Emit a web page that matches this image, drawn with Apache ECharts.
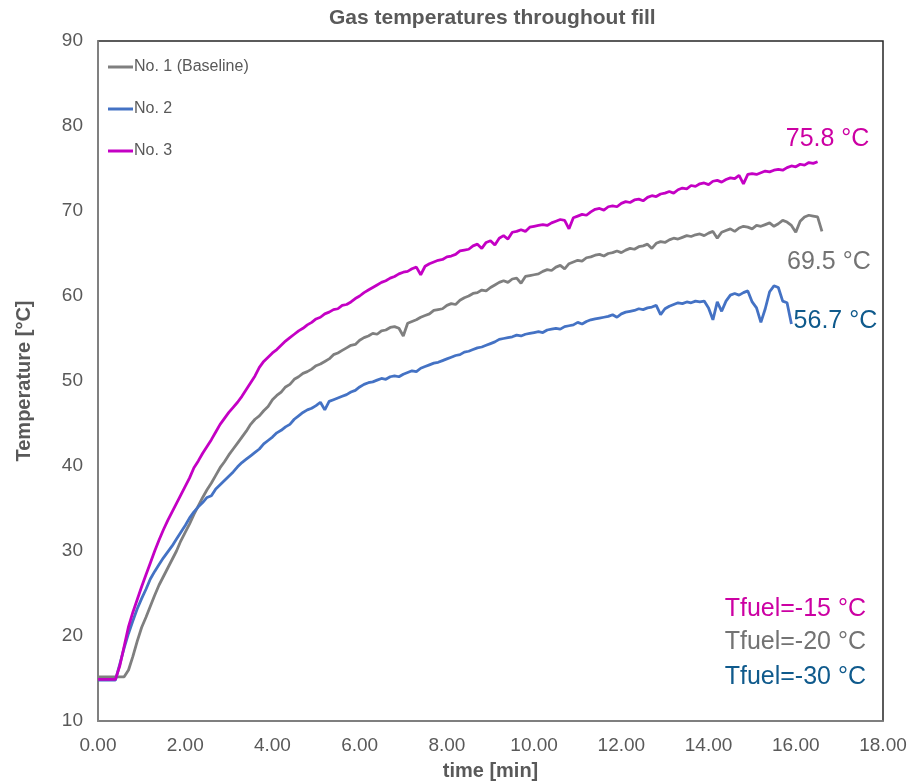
<!DOCTYPE html>
<html>
<head>
<meta charset="utf-8">
<title>Gas temperatures throughout fill</title>
<script src="https://cdn.jsdelivr.net/npm/echarts@6/dist/echarts.min.js"></script>
<style>
  html, body { margin: 0; padding: 0; background: #ffffff; }
  #chart { width: 907px; height: 781px; }
</style>
</head>
<body>
<div id="chart"></div>
<script>
// Sample times in minutes (one reading every 0.1 min)
const timeMin = [
  0.0, 0.1, 0.2, 0.3, 0.4, 0.5, 0.6, 0.7, 0.8, 0.9,
  1.0, 1.1, 1.2, 1.3, 1.4, 1.5, 1.6, 1.7, 1.8, 1.9,
  2.0, 2.1, 2.2, 2.3, 2.4, 2.5, 2.6, 2.7, 2.8, 2.9,
  3.0, 3.1, 3.2, 3.3, 3.4, 3.5, 3.6, 3.7, 3.8, 3.9,
  4.0, 4.1, 4.2, 4.3, 4.4, 4.5, 4.6, 4.7, 4.8, 4.9,
  5.0, 5.1, 5.2, 5.3, 5.4, 5.5, 5.6, 5.7, 5.8, 5.9,
  6.0, 6.1, 6.2, 6.3, 6.4, 6.5, 6.6, 6.7, 6.8, 6.9,
  7.0, 7.1, 7.2, 7.3, 7.4, 7.5, 7.6, 7.7, 7.8, 7.9,
  8.0, 8.1, 8.2, 8.3, 8.4, 8.5, 8.6, 8.7, 8.8, 8.9,
  9.0, 9.1, 9.2, 9.3, 9.4, 9.5, 9.6, 9.7, 9.8, 9.9,
  10.0, 10.1, 10.2, 10.3, 10.4, 10.5, 10.6, 10.7, 10.8, 10.9,
  11.0, 11.1, 11.2, 11.3, 11.4, 11.5, 11.6, 11.7, 11.8, 11.9,
  12.0, 12.1, 12.2, 12.3, 12.4, 12.5, 12.6, 12.7, 12.8, 12.9,
  13.0, 13.1, 13.2, 13.3, 13.4, 13.5, 13.6, 13.7, 13.8, 13.9,
  14.0, 14.1, 14.2, 14.3, 14.4, 14.5, 14.6, 14.7, 14.8, 14.9,
  15.0, 15.1, 15.2, 15.3, 15.4, 15.5, 15.6, 15.7, 15.8, 15.9,
  16.0, 16.1, 16.2, 16.3, 16.4, 16.5, 16.6
];

// No. 1 (Baseline), Tfuel = -20 °C
const tempNo1 = [
  15.2, 15.2, 15.2, 15.2, 15.2, 15.2, 15.2, 16.0, 17.6, 19.4,
  21.0, 22.2, 23.5, 24.8, 26.0, 27.0, 28.0, 29.0, 30.0, 31.2,
  32.2, 33.2, 34.3, 35.3, 36.3, 37.2, 38.0, 38.9, 39.8, 40.5,
  41.3, 42.0, 42.7, 43.4, 44.1, 44.9, 45.5, 45.9, 46.5, 47.0,
  47.8, 48.3, 48.7, 49.3, 49.6, 50.2, 50.5, 50.9, 51.1, 51.4,
  51.8, 52.0, 52.3, 52.6, 53.1, 53.3, 53.6, 53.9, 54.2, 54.3,
  54.8, 55.1, 55.3, 55.6, 55.5, 55.9, 56.0, 56.3, 56.4, 56.2,
  55.3, 56.8, 57.0, 57.2, 57.5, 57.7, 57.9, 58.3, 58.4, 58.5,
  58.9, 59.1, 59.0, 59.5, 59.8, 60.0, 60.3, 60.4, 60.7, 60.6,
  61.0, 61.3, 61.6, 61.8, 61.6, 62.0, 62.1, 61.5, 62.3, 62.4,
  62.5, 62.6, 62.9, 63.1, 63.0, 63.4, 63.6, 63.2, 63.8, 64.0,
  64.2, 64.1, 64.5, 64.6, 64.8, 64.9, 64.7, 65.0, 65.1, 65.3,
  65.1, 65.4, 65.6, 65.5, 65.8, 65.9, 66.1, 65.6, 66.2, 66.4,
  66.3, 66.6, 66.8, 66.7, 66.9, 67.1, 67.0, 67.2, 67.3, 67.1,
  67.4, 67.6, 66.8, 67.5, 67.7, 67.9, 67.6, 68.0, 68.2, 68.1,
  67.9, 68.3, 68.2, 68.4, 68.6, 68.2, 68.5, 68.9, 68.7, 68.3,
  67.5, 68.8, 69.3, 69.5, 69.4, 69.3, 67.6
];

// No. 2, Tfuel = -30 °C
const tempNo2 = [
  14.8, 14.8, 14.8, 14.8, 14.8, 16.7, 18.6, 20.3, 21.8, 23.2,
  24.4, 25.5, 26.7, 27.6, 28.4, 29.2, 29.9, 30.6, 31.4, 32.2,
  33.0, 33.9, 34.6, 35.2, 35.7, 36.3, 36.5, 37.3, 37.8, 38.3,
  38.8, 39.3, 39.9, 40.4, 40.8, 41.2, 41.6, 42.0, 42.6, 43.0,
  43.4, 43.9, 44.2, 44.6, 44.9, 45.5, 45.9, 46.3, 46.6, 46.8,
  47.1, 47.5, 46.6, 47.6, 47.8, 48.0, 48.2, 48.4, 48.7, 48.9,
  49.3, 49.6, 49.8, 49.9, 50.1, 50.3, 50.2, 50.5, 50.6, 50.5,
  50.8, 51.0, 51.2, 51.1, 51.5, 51.7, 51.9, 52.1, 52.2, 52.4,
  52.6, 52.8, 53.0, 53.1, 53.4, 53.5, 53.7, 53.9, 54.0, 54.2,
  54.4, 54.6, 54.9, 55.0, 55.1, 55.2, 55.4, 55.3, 55.5, 55.6,
  55.7, 55.8, 55.7, 56.0, 56.1, 56.2, 56.1, 56.4, 56.5, 56.6,
  56.9, 56.7, 57.0, 57.2, 57.3, 57.4, 57.5, 57.6, 57.8, 57.5,
  57.9, 58.1, 58.2, 58.3, 58.5, 58.4, 58.6, 58.7, 58.9, 57.8,
  58.5, 58.8, 59.0, 59.2, 59.1, 59.3, 59.2, 59.4, 59.3, 59.4,
  58.6, 57.2, 59.3, 58.2, 59.4, 60.1, 60.3, 60.1, 60.4, 60.6,
  59.3, 58.6, 56.9, 58.5, 60.5, 61.2, 61.0, 59.4, 59.2, 56.7
];

// No. 3, Tfuel = -15 °C
const tempNo3 = [
  14.9, 14.9, 14.9, 14.9, 14.9, 16.5, 18.8, 21.1, 22.8, 24.3,
  25.8, 27.2, 28.6, 30.0, 31.3, 32.5, 33.6, 34.6, 35.6, 36.6,
  37.6, 38.6, 39.8, 40.6, 41.5, 42.3, 43.1, 44.0, 44.9, 45.6,
  46.3, 46.9, 47.5, 48.2, 49.0, 49.8, 50.6, 51.6, 52.3, 52.8,
  53.3, 53.7, 54.2, 54.7, 55.1, 55.5, 55.9, 56.2, 56.6, 56.9,
  57.3, 57.5, 57.9, 58.1, 58.4, 58.5, 58.9, 59.0, 59.3, 59.7,
  60.0, 60.4, 60.7, 61.0, 61.3, 61.6, 61.8, 62.1, 62.3, 62.6,
  62.8, 62.9, 63.2, 63.4, 62.5, 63.5, 63.8, 64.0, 64.2, 64.3,
  64.6, 64.7, 64.9, 65.3, 65.4, 65.5, 65.9, 66.1, 65.6, 66.3,
  66.5, 66.0, 66.8, 67.1, 66.7, 67.5, 67.6, 67.8, 67.6, 68.1,
  68.2, 68.3, 68.4, 68.3, 68.6, 68.8, 69.0, 68.9, 67.9, 69.2,
  69.4, 69.6, 69.5, 69.9, 70.2, 70.3, 70.1, 70.5, 70.6, 70.5,
  70.9, 71.1, 71.0, 71.3, 71.4, 71.2, 71.6, 71.8, 71.7, 72.0,
  72.1, 72.3, 72.1, 72.5, 72.7, 72.6, 73.0, 72.9, 73.2, 73.3,
  73.1, 73.5, 73.6, 73.4, 73.7, 73.9, 73.8, 74.2, 73.2, 74.3,
  74.4, 74.3, 74.5, 74.7, 74.6, 74.8, 74.9, 74.8, 75.1, 75.3,
  75.2, 75.5, 75.4, 75.7, 75.6, 75.8
];

const seriesNames = ['No. 1 (Baseline)', 'No. 2', 'No. 3'];
const fuelNotes = ['Tfuel=-15 °C', 'Tfuel=-20 °C', 'Tfuel=-30 °C'];
const xTicks = [0, 2, 4, 6, 8, 10, 12, 14, 16, 18];
const yTicks = [10, 20, 30, 40, 50, 60, 70, 80, 90];

const COL_GRAY = '#7f7f7f';
const COL_BLUE = '#4472c4';
const COL_MAGENTA = '#c400c4';
const TXT_MAGENTA = '#cc00a3';
const TXT_GRAY = '#737373';
const TXT_BLUE = '#0f5a8c';
const AXIS_TXT = '#595959';
const FONT = '"Liberation Sans", Arial, sans-serif';

function pairs(values) {
  return values.map((v, i) => [timeMin[i], v]);
}

// Label on one reading of a series: the text is that reading's value
function valueTag(values, idx, color, offset) {
  return {
    symbol: 'circle',
    symbolSize: 0,
    silent: true,
    data: [{ coord: [timeMin[idx], values[idx]], value: values[idx] }],
    label: {
      show: true,
      position: 'inside',
      offset: offset,
      formatter: (p) => p.value.toFixed(1) + ' °C',
      color: color,
      fontSize: 25,
      fontFamily: FONT
    }
  };
}

const peakNo1 = tempNo1.indexOf(Math.max(...tempNo1));

const chart = echarts.init(document.getElementById('chart'), null, { renderer: 'canvas' });

chart.setOption({
  animation: false,
  backgroundColor: '#ffffff',
  title: {
    text: 'Gas temperatures throughout fill',
    left: 324,
    top: 3,
    textStyle: { fontFamily: FONT, fontSize: 21, fontWeight: 'bold', color: AXIS_TXT }
  },
  legend: {
    orient: 'vertical',
    left: 103,
    top: 53,
    icon: 'rect',
    itemWidth: 25,
    itemHeight: 3,
    itemGap: 24,
    data: seriesNames,
    textStyle: { fontFamily: FONT, fontSize: 16, color: AXIS_TXT, lineHeight: 18, padding: [0, 0, 0, -4] }
  },
  grid: {
    left: 98, right: 24, top: 41, bottom: 60,
    outerBoundsMode: 'none',
    containLabel: false,
    show: true,
    borderColor: '#262626',
    borderWidth: 1.5,
    backgroundColor: 'transparent'
  },
  xAxis: {
    type: 'value',
    min: xTicks[0],
    max: xTicks[xTicks.length - 1],
    interval: xTicks[1] - xTicks[0],
    name: 'time [min]',
    nameLocation: 'middle',
    nameGap: 40,
    nameTextStyle: { fontFamily: FONT, fontSize: 20, fontWeight: 'bold', color: AXIS_TXT },
    axisLine: { show: true, lineStyle: { color: '#8c8c8c', width: 1.5 } },
    axisTick: { show: false },
    splitLine: { show: false },
    axisLabel: {
      margin: 15,
      fontFamily: FONT,
      fontSize: 19,
      color: AXIS_TXT,
      formatter: (v) => v.toFixed(2)
    }
  },
  yAxis: {
    type: 'value',
    min: yTicks[0],
    max: yTicks[yTicks.length - 1],
    interval: yTicks[1] - yTicks[0],
    name: 'Temperature [°C]',
    nameLocation: 'middle',
    nameGap: 64,
    nameTextStyle: { fontFamily: FONT, fontSize: 20, fontWeight: 'bold', color: AXIS_TXT },
    axisLine: { show: true, lineStyle: { color: '#8c8c8c', width: 1.5 } },
    axisTick: { show: false },
    splitLine: { show: false },
    axisLabel: { margin: 15, fontFamily: FONT, fontSize: 19, color: AXIS_TXT }
  },
  series: [
    {
      name: seriesNames[0],
      type: 'line',
      data: pairs(tempNo1),
      showSymbol: false,
      color: COL_GRAY,
      lineStyle: { color: COL_GRAY, width: 2.8 },
      z: 2,
      markPoint: valueTag(tempNo1, peakNo1, TXT_GRAY, [20, 47])
    },
    {
      name: seriesNames[1],
      type: 'line',
      data: pairs(tempNo2),
      showSymbol: false,
      color: COL_BLUE,
      lineStyle: { color: COL_BLUE, width: 2.8 },
      z: 3,
      markPoint: valueTag(tempNo2, tempNo2.length - 1, TXT_BLUE, [44, -3])
    },
    {
      name: seriesNames[2],
      type: 'line',
      data: pairs(tempNo3),
      showSymbol: false,
      color: COL_MAGENTA,
      lineStyle: { color: COL_MAGENTA, width: 2.8 },
      z: 4,
      markPoint: valueTag(tempNo3, tempNo3.length - 1, TXT_MAGENTA, [10, -23])
    }
  ],
  graphic: [
    { type: 'text', x: 866, y: 609, style: { text: fuelNotes[0], align: 'right', verticalAlign: 'middle', fill: TXT_MAGENTA, font: '25px ' + FONT } },
    { type: 'text', x: 866, y: 642, style: { text: fuelNotes[1], align: 'right', verticalAlign: 'middle', fill: TXT_GRAY, font: '25px ' + FONT } },
    { type: 'text', x: 866, y: 677, style: { text: fuelNotes[2], align: 'right', verticalAlign: 'middle', fill: TXT_BLUE, font: '25px ' + FONT } }
  ]
});
</script>
</body>
</html>
